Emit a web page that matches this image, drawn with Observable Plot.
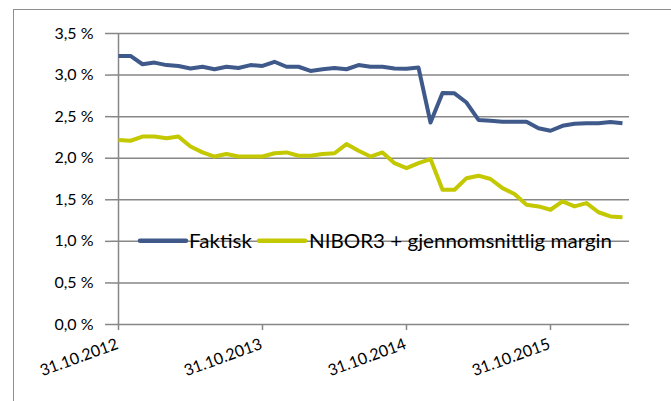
<!DOCTYPE html>
<html>
<head>
<meta charset="utf-8">
<script src="https://cdn.jsdelivr.net/npm/d3@7"></script>
<script src="https://cdn.jsdelivr.net/npm/@observablehq/plot@0.6"></script>
<style>
  html, body { margin: 0; padding: 0; background: #fff; overflow: hidden; }
  #wrap { position: relative; width: 671px; height: 401px; }
  #frame { position: absolute; left: 13px; top: 9px; width: 720px; height: 440px; border: 1px solid #8e8e8e; box-sizing: border-box; }
  #chart { position: absolute; left: 0; top: 0; }
  #legend { position: absolute; left: 0; top: 0; pointer-events: none; }
</style>
</head>
<body>
<div id="wrap">
  <div id="frame"></div>
  <div id="chart"></div>
  <svg id="legend" width="671" height="401"></svg>
</div>
<script>
const dates = [
  "31.10.2012","30.11.2012","31.12.2012","31.01.2013","28.02.2013","31.03.2013","30.04.2013","31.05.2013","30.06.2013","31.07.2013","31.08.2013","30.09.2013",
  "31.10.2013","30.11.2013","31.12.2013","31.01.2014","28.02.2014","31.03.2014","30.04.2014","31.05.2014","30.06.2014","31.07.2014","31.08.2014","30.09.2014",
  "31.10.2014","30.11.2014","31.12.2014","31.01.2015","28.02.2015","31.03.2015","30.04.2015","31.05.2015","30.06.2015","31.07.2015","31.08.2015","30.09.2015",
  "31.10.2015","30.11.2015","31.12.2015","31.01.2016","29.02.2016","31.03.2016","30.04.2016"
];
const faktisk = [
  3.23, 3.23, 3.13, 3.15, 3.12, 3.11, 3.08, 3.10, 3.07, 3.10, 3.085, 3.12,
  3.11, 3.16, 3.10, 3.10, 3.05, 3.07, 3.085, 3.07, 3.12, 3.10, 3.10, 3.08,
  3.077, 3.09, 2.43, 2.785, 2.78, 2.67, 2.46, 2.45, 2.44, 2.44, 2.44, 2.36,
  2.33, 2.39, 2.415, 2.42, 2.42, 2.435, 2.42
];
const nibor = [
  2.22, 2.21, 2.26, 2.26, 2.24, 2.26, 2.14, 2.07, 2.02, 2.05, 2.02, 2.02,
  2.02, 2.06, 2.07, 2.03, 2.03, 2.05, 2.06, 2.17, 2.09, 2.02, 2.07, 1.94,
  1.88, 1.94, 1.99, 1.62, 1.62, 1.76, 1.79, 1.75, 1.64, 1.57, 1.44, 1.42,
  1.38, 1.48, 1.42, 1.46, 1.35, 1.30, 1.29
];
const seriesNames = ["Faktisk", "NIBOR3 + gjennomsnittlig margin"];
const seriesColors = ["#3f5a8a", "#c3c800"];
const yTicks = [0, 0.5, 1.0, 1.5, 2.0, 2.5, 3.0, 3.5];
const xTicks = ["31.10.2012", "31.10.2013", "31.10.2014", "31.10.2015"];

const rows = [];
dates.forEach((d, i) => {
  rows.push({date: d, value: faktisk[i], series: seriesNames[0]});
});
dates.forEach((d, i) => {
  rows.push({date: d, value: nibor[i], series: seriesNames[1]});
});

const fmt = v => v.toFixed(1).replace(".", ",") + " %";
const gridColor = "#878787";
const font = "Lato, 'Open Sans', sans-serif";

const chart = Plot.plot({
  width: 671,
  height: 401,
  marginLeft: 111,
  marginRight: 42,
  marginTop: 33,
  marginBottom: 77,
  style: {fontFamily: font, fontSize: "16px", color: "#000", background: "transparent"},
  x: {type: "point", domain: dates, padding: 0},
  y: {domain: [0, 3.5]},
  color: {domain: seriesNames, range: seriesColors},
  marks: [
    Plot.ruleY(yTicks, {stroke: gridColor, strokeWidth: 1.5}),
    Plot.ruleX([dates[0]], {stroke: gridColor, strokeWidth: 1.5}),
    Plot.axisY({ticks: yTicks, tickFormat: fmt, tickSize: 6, tickPadding: 12, stroke: gridColor, strokeWidth: 1.5, fill: "#000", label: null}),
    Plot.axisX({ticks: xTicks, tickSize: 6, tickFormat: () => "", stroke: gridColor, strokeWidth: 1.5, label: null}),
    Plot.text(xTicks, {x: d => d, frameAnchor: "bottom", rotate: -20, textAnchor: "end", lineAnchor: "middle", dx: -1, dy: 19, fill: "#000", fontSize: 16}),
    Plot.line(rows, {x: "date", y: "value", z: "series", stroke: "series", strokeWidth: 4, strokeLinejoin: "round", strokeLinecap: "butt"})
  ]
});
document.getElementById("chart").appendChild(chart);

// Legend inside the plot area, on the 1,0 % gridline
const yScale = chart.scale("y");
const legendY = yScale.apply(1.0);
const lg = d3.select("#legend");
const items = [
  {name: seriesNames[0], color: seriesColors[0], x0: 140, x1: 186, tx: 189, len: 63},
  {name: seriesNames[1], color: seriesColors[1], x0: 259, x1: 305, tx: 309, len: 303}
];
items.forEach(it => {
  lg.append("line").attr("x1", it.x0).attr("x2", it.x1).attr("y1", legendY).attr("y2", legendY)
    .attr("stroke", it.color).attr("stroke-width", 4.5).attr("stroke-linecap", "round");
  lg.append("text").attr("x", it.tx).attr("y", legendY + 7)
    .attr("font-family", font).attr("font-size", 20)
    .attr("fill", "#000").attr("textLength", it.len).attr("lengthAdjust", "spacingAndGlyphs")
    .text(it.name);
});
</script>
</body>
</html>
